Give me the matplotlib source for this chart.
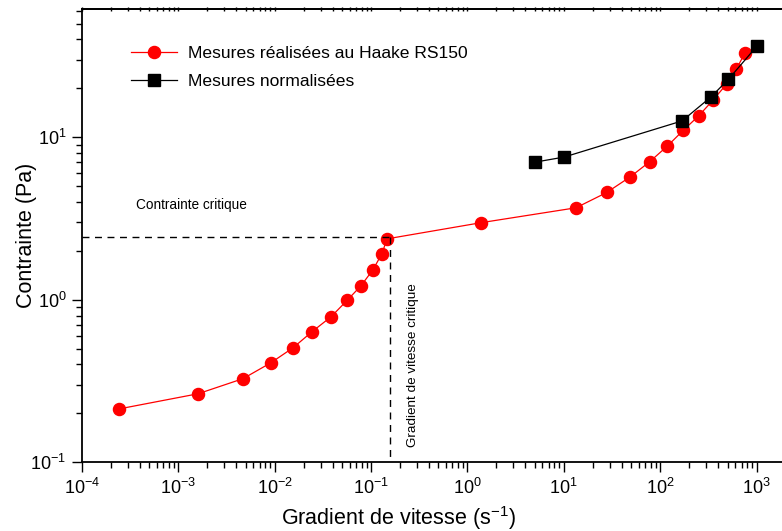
import numpy as np
import matplotlib
matplotlib.use("Agg")
import matplotlib.pyplot as plt

plt.rcParams['font.family'] = ['Liberation Sans', 'DejaVu Sans']
plt.rcParams['mathtext.fontset'] = 'custom'
plt.rcParams['mathtext.rm'] = 'Liberation Sans'
plt.rcParams['mathtext.it'] = 'Liberation Sans:italic'

# Haake RS150 measurements
gamma_rs150 = [2.44e-4, 1.61e-3, 4.71e-3, 9.2e-3, 0.0156, 0.0245, 0.0386, 0.0565,
               0.0789, 0.105, 0.130, 0.147, 1.39, 13.4, 27.9, 49.1, 78, 119,
               173, 253, 356, 491, 617, 760]
tau_rs150 = [0.213, 0.264, 0.327, 0.41, 0.507, 0.636, 0.786, 0.99,
             1.22, 1.53, 1.92, 2.37, 2.98, 3.68, 4.57, 5.71, 7.07, 8.83,
             11.0, 13.6, 17.0, 21.3, 26.3, 33.0]

# normalised measurements
gamma_norm = [5.08, 10.1, 169, 337, 510, 1019]
tau_norm = [7.03, 7.55, 12.6, 17.7, 22.7, 36.6]

# critical point
gamma_crit = 0.158
tau_crit = 2.44

fig = plt.figure(figsize=(7.82, 5.31), dpi=100)
ax = fig.add_axes([0.1045, 0.1294, 0.9055, 0.8537])

ax.plot(gamma_rs150, tau_rs150, '-', color='red', lw=0.9, marker='o', ms=8.7,
        mec='red', mfc='red', label='Mesures réalisées au Haake RS150')
ax.plot(gamma_norm, tau_norm, '-', color='black', lw=0.9, marker='s', ms=8,
        mec='black', mfc='black', label='Mesures normalisées')

ax.plot([1e-4, gamma_crit], [tau_crit, tau_crit], '--', color='black', lw=1, dashes=(5, 4))
ax.plot([gamma_crit, gamma_crit], [tau_crit, 0.1], '--', color='black', lw=1, dashes=(5, 4))

ax.set_xscale('log')
ax.set_yscale('log')
ax.set_xlim(1e-4, 10 ** 3.345)
ax.set_ylim(0.1, 10 ** 1.789)

ax.text(1.39e-3, 3.84, 'Contrainte critique', fontsize=9.8, ha='center', va='center')
ax.text(0.274, 0.398, 'Gradient de vitesse critique', fontsize=9.7, rotation=90,
        ha='center', va='center')

ax.set_xlabel('Gradient de vitesse (s$^{-1}$)', fontsize=15.5, va='center')
ax.xaxis.set_label_coords(0.4467, -0.123)
ax.set_ylabel('Contrainte (Pa)', fontsize=15.5, va='center', ha='center')
ax.yaxis.set_label_coords(-0.0773, 0.501)

ax.tick_params(which='both', direction='out', width=1, labelsize=13, pad=4)
ax.tick_params(which='major', length=7)
ax.tick_params(which='minor', length=4)
ax.spines['right'].set_visible(False)
for s in ['left', 'bottom', 'top']:
    ax.spines[s].set_linewidth(1.3)

# short ticks along the top edge
top = ax.secondary_xaxis('top')
top.tick_params(which='both', direction='inout', length=2.5, width=1,
                labeltop=False)
top.spines['top'].set_linewidth(1.3)

ax.legend(loc='upper left', bbox_to_anchor=(0.0696, 0.918), frameon=False,
          fontsize=12.6, handlelength=2.6, handletextpad=0.63, labelspacing=0.71,
          borderaxespad=0, borderpad=0)

fig.savefig('out.png', dpi=100)
